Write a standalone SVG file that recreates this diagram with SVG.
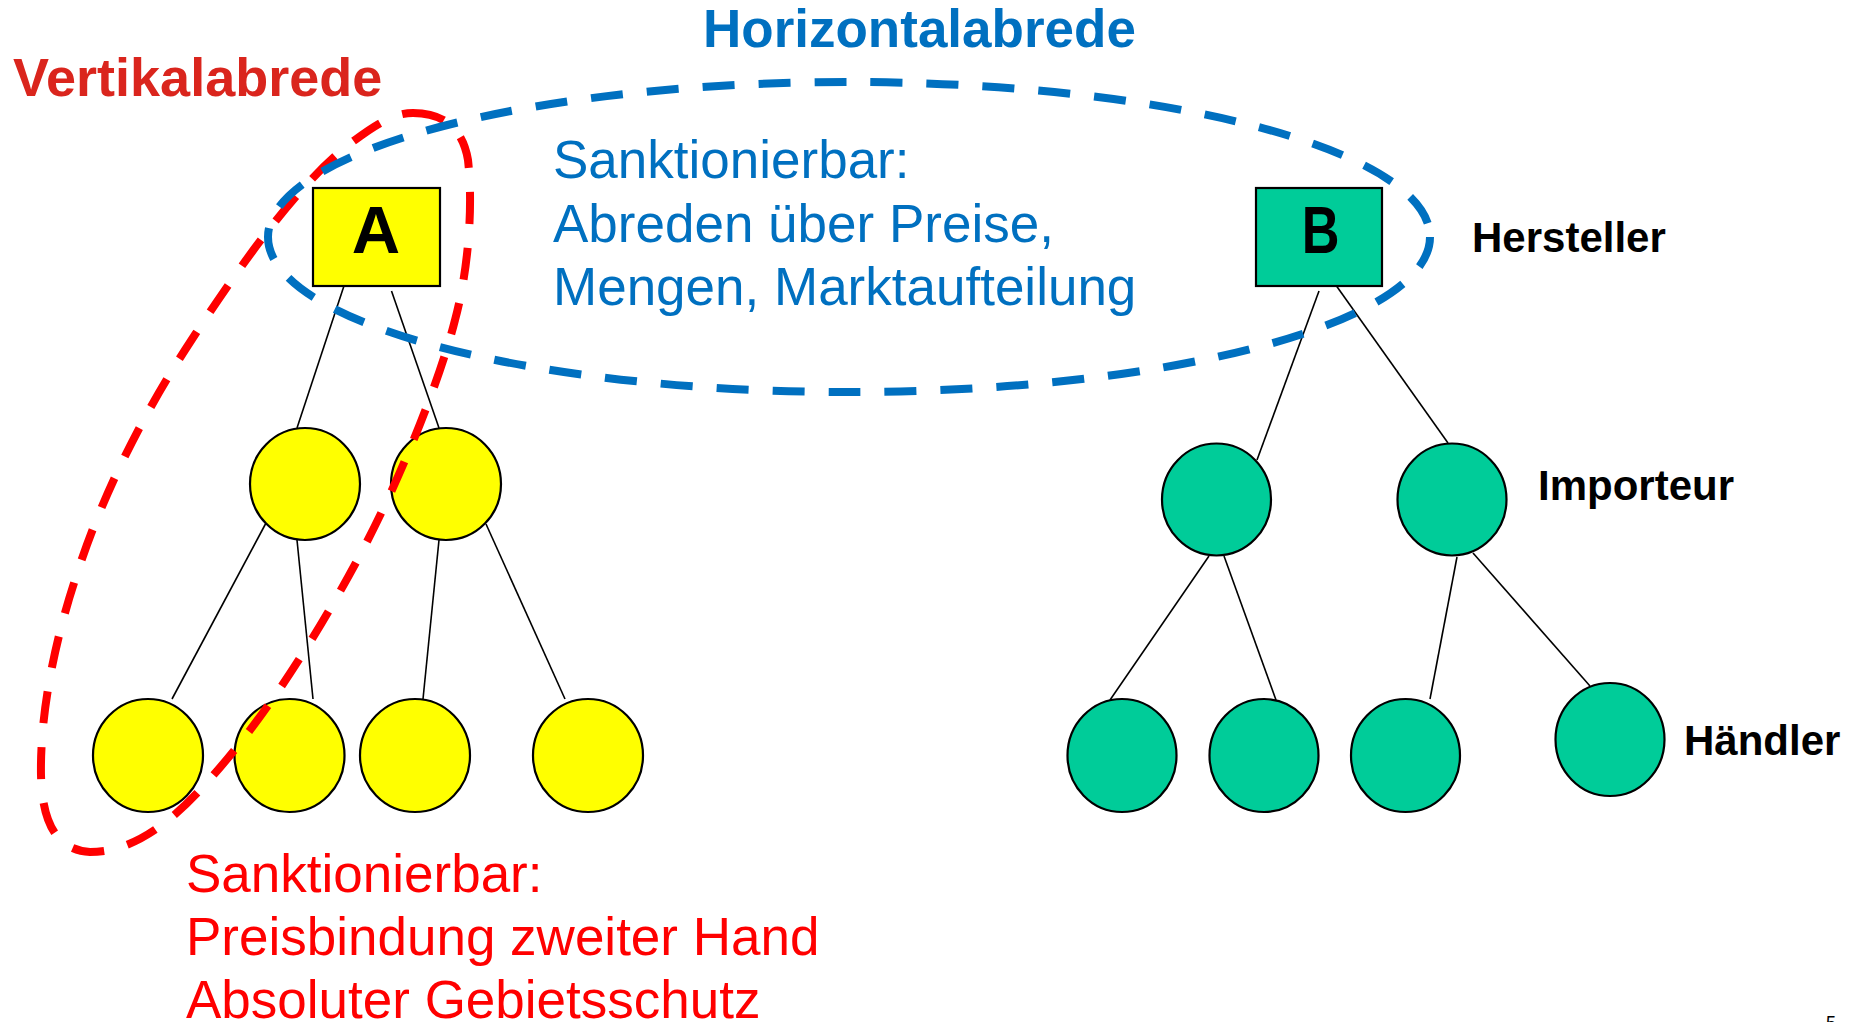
<svg xmlns="http://www.w3.org/2000/svg" width="1862" height="1022" viewBox="0 0 1862 1022">
  <style>
    .lbl { font-family: "Liberation Sans", Arial, sans-serif; }
    .bold { font-weight: bold; }
    .edge { stroke: #000; stroke-width: 1.6; fill: none; }
    .yel { fill: #ffff00; stroke: #000; stroke-width: 2.2; }
    .grn { fill: #00cc99; stroke: #000; stroke-width: 2.2; }
    .dash { fill: none; stroke-width: 8; stroke-dasharray: 32 24; }
  </style>
  <rect width="1862" height="1022" fill="#ffffff"/>

  <!-- tree edges -->
  <g id="connectors">
    <!-- manufacturer A tree -->
    <line class="edge" x1="344.6" y1="284" x2="297" y2="428"/>
    <line class="edge" x1="391.5" y1="291" x2="439" y2="428"/>
    <line class="edge" x1="266" y1="523" x2="172" y2="699"/>
    <line class="edge" x1="297" y1="540" x2="313" y2="699"/>
    <line class="edge" x1="439" y1="540" x2="423" y2="699"/>
    <line class="edge" x1="486" y1="524" x2="565" y2="699"/>
    <!-- manufacturer B tree -->
    <line class="edge" x1="1319" y1="291" x2="1257" y2="460"/>
    <line class="edge" x1="1336.5" y1="286" x2="1448" y2="443"/>
    <line class="edge" x1="1209" y1="556" x2="1110" y2="700"/>
    <line class="edge" x1="1224" y1="556" x2="1276" y2="700"/>
    <line class="edge" x1="1457" y1="557" x2="1430" y2="699"/>
    <line class="edge" x1="1473" y1="553" x2="1590" y2="686"/>
  </g>

  <!-- manufacturers -->
  <g id="node-A">
    <rect class="yel" x="313" y="188" width="127" height="98"/>
    <text class="lbl bold" x="376" y="253" font-size="67" text-anchor="middle" fill="#000">A</text>
  </g>
  <g id="node-B">
    <rect class="grn" x="1256" y="188" width="126" height="98"/>
    <text class="lbl bold" transform="translate(1320.5,253) scale(0.78,1)" font-size="67" text-anchor="middle" fill="#000">B</text>
  </g>

  <!-- importers -->
  <g id="node-A-imp1"><ellipse class="yel" cx="305" cy="484" rx="55" ry="56"/></g>
  <g id="node-A-imp2"><ellipse class="yel" cx="446" cy="484" rx="55" ry="56"/></g>
  <g id="node-B-imp1"><ellipse class="grn" cx="1216.5" cy="499.5" rx="54.5" ry="56"/></g>
  <g id="node-B-imp2"><ellipse class="grn" cx="1452" cy="499.5" rx="54.5" ry="56"/></g>

  <!-- dealers -->
  <g id="node-A-dl1"><ellipse class="yel" cx="148" cy="755.5" rx="55" ry="56.5"/></g>
  <g id="node-A-dl2"><ellipse class="yel" cx="289.5" cy="755.5" rx="55" ry="56.5"/></g>
  <g id="node-A-dl3"><ellipse class="yel" cx="415" cy="755.5" rx="55" ry="56.5"/></g>
  <g id="node-A-dl4"><ellipse class="yel" cx="588" cy="755.5" rx="55" ry="56.5"/></g>
  <g id="node-B-dl1"><ellipse class="grn" cx="1122" cy="755.5" rx="54.5" ry="56.5"/></g>
  <g id="node-B-dl2"><ellipse class="grn" cx="1264" cy="755.5" rx="54.5" ry="56.5"/></g>
  <g id="node-B-dl3"><ellipse class="grn" cx="1405.5" cy="755.5" rx="54.5" ry="56.5"/></g>
  <g id="node-B-dl4"><ellipse class="grn" cx="1610" cy="739.5" rx="54.5" ry="56.5"/></g>

  <!-- vertical agreement outline -->
  <g id="vertical-group">
    <path class="dash" stroke="#ff0000"
          d="M413,113 C440,113 462,125 468,160 C474,215 466,280 455,320 C440,380 400,480 360,555 C320,630 265,720 200,790 C160,833 125,852 90,852 C55,850 42,820 41,775 C40,720 52,650 75,580 C100,500 140,420 185,350 C240,265 300,180 355,140 C378,123 395,113 413,113 Z"/>
  </g>

  <!-- horizontal agreement outline -->
  <g id="horizontal-group">
    <ellipse class="dash" stroke="#0070c0" cx="849" cy="237" rx="581" ry="155"/>
  </g>

  <!-- headings -->
  <g id="titles">
    <text class="lbl bold" x="13" y="96" font-size="54" fill="#da251d">Vertikalabrede</text>
    <text class="lbl bold" x="703" y="47" font-size="53" fill="#0070c0">Horizontalabrede</text>
  </g>

  <!-- descriptions -->
  <g id="horizontal-note" class="lbl" font-size="53" fill="#0070c0">
    <text x="553" y="178">Sanktionierbar:</text>
    <text x="553" y="242">Abreden über Preise,</text>
    <text x="553" y="305">Mengen, Marktaufteilung</text>
  </g>
  <g id="vertical-note" class="lbl" font-size="53" fill="#ff0000">
    <text x="186" y="892">Sanktionierbar:</text>
    <text x="186" y="955">Preisbindung zweiter Hand</text>
    <text x="186" y="1018">Absoluter Gebietsschutz</text>
  </g>

  <!-- level labels -->
  <g id="levels" class="lbl bold" font-size="42" fill="#000">
    <text x="1472" y="252">Hersteller</text>
    <text x="1538" y="500">Importeur</text>
    <text x="1684" y="755">Händler</text>
  </g>

  <text class="lbl" x="1826" y="1029" font-size="18" fill="#000">5</text>
</svg>
